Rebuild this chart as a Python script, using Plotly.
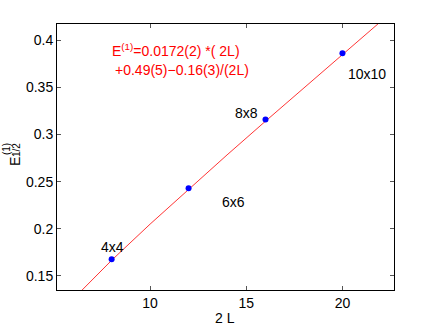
import plotly.graph_objects as go

# lattice size 2L and the measured values
L2 = [8, 12, 16, 20]
E_half = [0.1677, 0.2430, 0.3160, 0.3862]
sizes = ['4x4', '6x6', '8x8', '10x10']

# fitted curve
fit_x = [6, 8, 10, 12, 14, 16, 18, 20, 22]
fit_y = [0.1255, 0.1666, 0.2050, 0.2421, 0.2784, 0.3142, 0.3497, 0.3850, 0.4201]

# label positions (data coordinates)
lab_x = [8.02, 14.32, 15.02, 21.28]
lab_y = [0.181, 0.2285, 0.3229, 0.3643]

fam = 'Liberation Sans, Arial, sans-serif'
font = dict(family=fam, size=14, color='black')

fig = go.Figure()
fig.add_trace(go.Scatter(x=fit_x, y=fit_y, mode='lines',
                         line=dict(color='red', width=0.8), showlegend=False))
fig.add_trace(go.Scatter(x=L2, y=E_half, mode='markers',
                         marker=dict(color='blue', size=6), showlegend=False))

for x, y, t in zip(lab_x, lab_y, sizes):
    fig.add_annotation(x=x, y=y, text=t, showarrow=False, font=font,
                       xanchor='center', yanchor='middle')

red = dict(family=fam, size=14, color='red')
fig.add_annotation(x=7.89, y=0.3897, text='E<sup>(1)</sup>=0.0172(2) *( 2L)',
                   showarrow=False, xanchor='left', yanchor='middle', font=red)
fig.add_annotation(x=8.09, y=0.3685, text='+0.49(5)\u22120.16(3)/(2L)',
                   showarrow=False, xanchor='left', yanchor='middle', font=red)

# axis titles (y title built from pieces so the (1) and 1/2 stack like matlab)
fig.add_annotation(xref='paper', yref='paper', x=0.4985, y=-0.105, text='2 L',
                   showarrow=False, font=font, xanchor='center', yanchor='middle')
fig.add_annotation(xref='paper', yref='paper', x=-0.1231, y=0.4831, text='E',
                   textangle=-90, showarrow=False, font=font,
                   xanchor='center', yanchor='middle')
small = dict(family=fam, size=10, color='black')
fig.add_annotation(xref='paper', yref='paper', x=-0.1513, y=0.530, text='(1)',
                   textangle=-90, showarrow=False, font=small, borderpad=0,
                   xanchor='center', yanchor='middle')
fig.add_annotation(xref='paper', yref='paper', x=-0.1217, y=0.526, text='1/2',
                   textangle=-90, showarrow=False, font=small, borderpad=0,
                   xanchor='center', yanchor='middle')

axis = dict(showgrid=False, zeroline=False, showline=True, linecolor='black',
            linewidth=1, mirror='ticks', ticks='inside', ticklen=4,
            tickcolor='#555', tickfont=font, automargin=False)

fig.update_xaxes(axis, range=[5.16, 22.68], tickvals=[10, 15, 20])
fig.update_yaxes(axis, range=[0.1351, 0.4173],
                 tickvals=[0.15, 0.2, 0.25, 0.3, 0.35, 0.4],
                 ticktext=['0.15', '0.2', '0.25', '0.3', '0.35', '0.4'])

fig.update_layout(width=436, height=328, plot_bgcolor='white', paper_bgcolor='white',
                  margin=dict(l=57, r=42, t=24, b=38), font=font)

# drop the browser's default 8px body margin so the figure fills the window
fig.write_html('out.html', config={'displayModeBar': False},
               post_script="document.body.style.margin='0';")
